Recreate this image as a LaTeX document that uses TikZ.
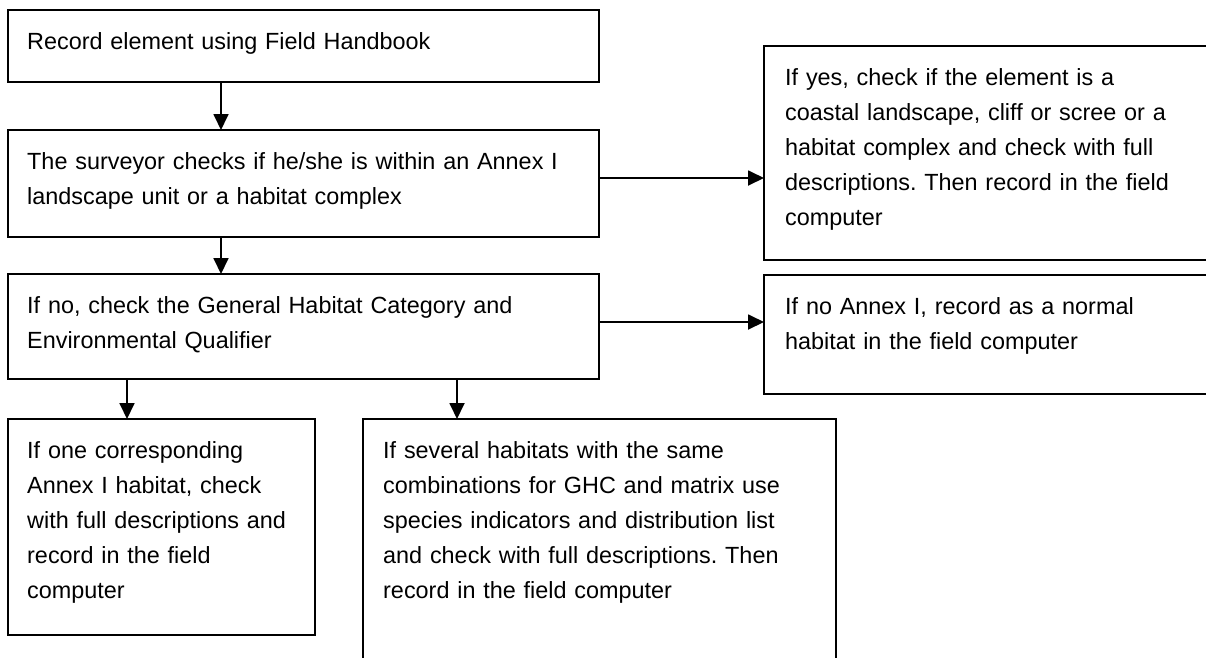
\documentclass[tikz,border=0pt]{standalone}
\usepackage{fontspec}
\setmainfont{Liberation Sans}
\usetikzlibrary{arrows.meta}
\frenchspacing
\begin{document}
\begin{tikzpicture}[x=1pt,y=-1pt,
  box/.style={draw=black, line width=1.8pt},
  txt/.style={anchor=north west, inner sep=0pt, align=left,
    font=\fontsize{23.4}{35}\selectfont},
  arr/.style={line width=1.8pt, -{Triangle[length=16pt,width=15pt]}}]
\useasboundingbox (0,0) rectangle (1206,657);
\clip (0,0) rectangle (1206,657);
% boxes
\coordinate (Anw) at (8,10);   \coordinate (Ase) at (599,82);
\coordinate (Bnw) at (8,130);  \coordinate (Bse) at (599,237);
\coordinate (Cnw) at (8,274);  \coordinate (Cse) at (599,379);
\coordinate (Dnw) at (764,46); \coordinate (Dse) at (1220,260);
\coordinate (Enw) at (764,275);\coordinate (Ese) at (1220,394);
\coordinate (Fnw) at (8,419);  \coordinate (Fse) at (315,635);
\coordinate (Gnw) at (363,419);\coordinate (Gse) at (836,680);
\draw[box] (Anw) rectangle (Ase);
\draw[box] (Bnw) rectangle (Bse);
\draw[box] (Cnw) rectangle (Cse);
\draw[box] (Dnw) rectangle (Dse);
\draw[box] (Enw) rectangle (Ese);
\draw[box] (Fnw) rectangle (Fse);
\draw[box] (Gnw) rectangle (Gse);
% texts
\node[txt, text width=560pt] (ta) at (27,25) {\strut Record element using Field Handbook};
\node[txt, text width=570pt] (tb) at (27,145) {\strut The surveyor checks if he/she is within an Annex I\\landscape unit or a habitat complex};
\node[txt, text width=570pt] (tc) at (27,289) {\strut If no, check the General Habitat Category and\\Environmental Qualifier};
\node[txt, text width=430pt] (td) at (785,61) {\strut If yes, check if the element is a\\coastal landscape, cliff or scree or a\\habitat complex and check with full\\descriptions. Then record in the field\\computer};
\node[txt, text width=430pt] (te) at (785,290) {\strut If no Annex I, record as a normal\\habitat in the field computer};
\node[txt, text width=285pt] (tf) at (27,434) {\strut If one corresponding\\Annex I habitat, check\\with full descriptions and\\record in the field\\computer};
\node[txt, text width=450pt] (tg) at (383,434) {\strut If several habitats with the same\\combinations for GHC and matrix use\\species indicators and distribution list\\and check with full descriptions. Then\\record in the field computer};
% connectors
\coordinate (a1) at (221,82);  \coordinate (b1) at (221,130);
\coordinate (b2) at (221,237); \coordinate (c1) at (221,274);
\coordinate (b3) at (599,178); \coordinate (d1) at (764,178);
\coordinate (c3) at (599,322); \coordinate (e1) at (764,322);
\coordinate (c4) at (127,379); \coordinate (f1) at (127,419);
\coordinate (c5) at (457,379); \coordinate (g1) at (457,419);
\draw[arr] (a1) -- (b1);
\draw[arr] (b2) -- (c1);
\draw[arr] (b3) -- (d1);
\draw[arr] (c3) -- (e1);
\draw[arr] (c4) -- (f1);
\draw[arr] (c5) -- (g1);
\end{tikzpicture}
\end{document}
